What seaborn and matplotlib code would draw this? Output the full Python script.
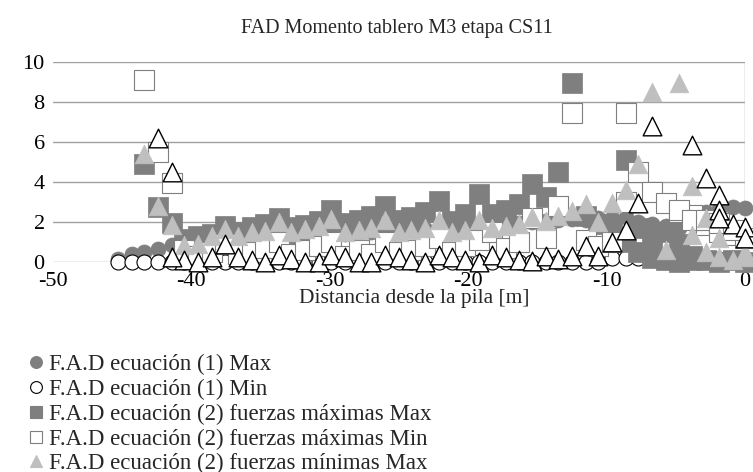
import numpy as np
import pandas as pd
import matplotlib
matplotlib.use("Agg")
import matplotlib.pyplot as plt
import seaborn as sns
from matplotlib.lines import Line2D

nan = np.nan

# ---- data ----
x_grid = [-45.3, -44.3, -43.4, -42.4, -41.4, -40.5, -39.5, -38.5, -37.6, -36.6,
          -35.6, -34.7, -33.7, -32.8, -31.8, -30.8, -29.9, -28.9, -27.9, -27.0,
          -26.0, -25.0, -24.1, -23.1, -22.1, -21.2, -20.2, -19.2, -18.3, -17.3,
          -16.3, -15.4, -14.4, -13.5, -12.5, -11.5, -10.6, -9.6, -8.6, -7.7,
          -6.7, -5.7, -4.8, -3.8, -2.8, -1.9, -0.9, 0.0]

ec1_max = [0.15, 0.4, 0.5, 0.65, 0.85, 0.95, 1.0, 1.05, 1.1, 1.1,
           1.15, 1.2, 1.25, 1.25, 1.3, 1.35, 1.4, 1.4, 1.45, 1.5,
           1.55, 1.55, 1.6, 1.65, 1.7, 1.7, 1.75, 1.8, 1.85, 1.9,
           1.95, 2.0, 2.05, 2.1, 2.15, 2.1, 2.2, 2.2, 2.25, 2.0,
           1.9, 1.8, 1.7, 2.3, 2.5, 2.65, 2.75, 2.7]

ec1_min = [0.0, 0.0, 0.0, 0.0, 0.0, 0.0, 0.0, 0.0, 0.0, 0.0,
           0.0, 0.0, 0.0, 0.0, 0.0, 0.0, 0.0, 0.0, 0.0, 0.0,
           0.0, 0.0, 0.0, 0.0, 0.0, 0.0, 0.0, 0.0, 0.0, 0.0,
           0.0, 0.0, 0.0, 0.0, 0.0, 0.0, 0.0, 0.2, 0.2, 0.2,
           0.2, 0.2, 0.2, 0.15, 0.15, 0.15, 0.15, 0.15]

fmax_max = [nan, nan, 4.9, 2.75, 1.95, 1.15, 1.3, 1.4, 1.8, 1.5,
            1.75, 1.9, 2.2, 1.75, 1.85, 2.05, 2.6, 1.95, 2.1, 2.3,
            2.8, 2.1, 2.25, 2.5, 3.05, 2.05, 2.4, 3.4, 2.4, 2.6,
            2.9, 3.9, 3.25, 4.5, 8.95, 2.3, 1.9, 1.6, 5.1, 1.7,
            1.2, 1.5, 0.9, 0.3, 0.1, 0.0, 0.1, 0.0]
fmax_max_x_extra = [-8.6, -7.7, -6.7, -5.7, -4.8, -3.8]
fmax_max_extra = [1.0, 0.5, 0.2, 0.1, 0.0, 0.1]

fmax_min = [nan, nan, 9.1, 5.5, 3.95, 0.6, 0.3, 0.5, 0.9, 0.4,
            0.5, 0.7, 1.0, 0.4, 0.6, 0.8, 1.0, 0.3, 0.6, 0.4,
            1.0, 0.5, 0.6, 0.8, 1.2, 0.5, 0.8, 1.1, 1.5, 0.7,
            1.0, 2.2, 1.2, 2.8, 7.45, 1.1, 0.8, 1.0, 7.45, 4.5,
            3.5, 2.95, 2.5, 2.35, 1.85, 1.5, 1.35, 1.2]
fmax_min_x_extra = [-8.6, -4.8, -3.8, -2.8, -1.9, -0.9]
fmax_min_extra = [3.0, 2.6, 2.1, 2.1, 1.95, 1.6]

fmin_max = [nan, nan, 5.4, 2.8, 1.85, 0.85, 0.9, 1.3, 1.65, 1.3,
            1.5, 1.55, 2.0, 1.5, 1.65, 1.8, 2.15, 1.5, 1.6, 1.7,
            2.1, 1.5, 1.6, 1.7, 2.1, 1.5, 1.6, 2.1, 1.7, 1.8,
            1.9, 2.25, 2.05, 2.3, 2.55, 2.9, 2.0, 2.95, 3.6, 4.9,
            8.5, 0.6, 8.95, 3.8, 2.2, 1.2, 0.1, 0.25]
fmin_max_x_extra = [-3.8, -2.8, -1.9, 0.0]
fmin_max_extra = [1.35, 0.5, 0.25, 0.5]

fmin_min = [nan, nan, nan, 6.2, 4.5, 0.1, 0.0, 0.25, 0.9, 0.25,
            0.1, 0.0, 0.35, 0.15, 0.0, 0.0, 0.35, 0.25, 0.0, 0.0,
            0.35, 0.25, 0.1, 0.0, 0.35, 0.25, 0.1, 0.0, 0.35, 0.25,
            0.1, 0.05, 0.3, 0.15, 0.3, 0.8, 0.3, 1.0, 1.6, 2.95,
            6.8, nan, nan, 5.85, 4.2, 3.35, 1.9, 1.75]
fmin_min_x_extra = [-41.4, -1.9, -1.9, 0.0]
fmin_min_extra = [0.25, 2.6, 2.2, 1.2]

labels = ["F.A.D ecuación (1) Max",
          "F.A.D ecuación (1) Min",
          "F.A.D ecuación (2) fuerzas máximas Max",
          "F.A.D ecuación (2) fuerzas máximas Min",
          "F.A.D ecuación (2) fuerzas mínimas Max",
          "F.A.D ecuación (2) fuerzas mínimas Min"]

x_ticks = [-50, -40, -30, -20, -10, 0]
y_ticks = [0, 2, 4, 6, 8, 10]

title = "FAD Momento tablero M3 etapa CS11"
xlabel = "Distancia desde la pila [m]"

# ---- styles ----
DARK = "#7f7f7f"
LIGHT = "#bfbfbf"
styles = [
    dict(marker="o", s=117, color=DARK, edgecolor=DARK, linewidth=0.5),
    dict(marker="o", s=117, color="white", edgecolor="black", linewidth=0.8),
    dict(marker="s", s=196, color=DARK, edgecolor=DARK, linewidth=0.5),
    dict(marker="s", s=196, color="white", edgecolor=DARK, linewidth=0.8),
    dict(marker="^", s=180, color=LIGHT, edgecolor=LIGHT, linewidth=0.5),
    dict(marker="^", s=180, color="white", edgecolor="black", linewidth=1.0),
]

series = [
    (x_grid, ec1_max),
    (x_grid, ec1_min),
    (x_grid + fmax_max_x_extra, fmax_max + fmax_max_extra),
    (x_grid + fmax_min_x_extra, fmax_min + fmax_min_extra),
    (x_grid + fmin_max_x_extra, fmin_max + fmin_max_extra),
    (x_grid + fmin_min_x_extra, fmin_min + fmin_min_extra),
]

frames = []
for lab, (xs, ys) in zip(labels, series):
    frames.append(pd.DataFrame({"x": xs, "y": ys, "serie": lab}))
df = pd.concat(frames, ignore_index=True).dropna()

sns.set_theme(style="white")
plt.rcParams["font.family"] = ["Liberation Serif", "DejaVu Serif"]
plt.rcParams["axes.unicode_minus"] = False

W, H = 753, 472
fig = plt.figure(figsize=(W / 100, H / 100), dpi=100)
ax = fig.add_axes([53 / W, 1 - 262 / H, (745 - 53) / W, 200 / H])

for k, (lab, st) in enumerate(zip(labels, styles)):
    sub = df[df["serie"] == lab]
    sns.scatterplot(data=sub, x="x", y="y", ax=ax, legend=False,
                    clip_on=False, zorder=3 + k, **st)

ax.set_xlim(-50, 0)
ax.set_ylim(0, 10)
ax.set_xticks(x_ticks)
ax.set_yticks(y_ticks)
ax.set_xticklabels([str(v) for v in x_ticks])
ax.set_yticklabels([str(v) for v in y_ticks])
ax.tick_params(axis="both", length=0, labelsize=16, colors="black")
ax.tick_params(axis="x", pad=7)
ax.tick_params(axis="y", pad=6)
for sp in ax.spines.values():
    sp.set_visible(False)
ax.yaxis.grid(True, color="#a0a0a0", linewidth=1.0, zorder=0)
ax.set_axisbelow(True)
ax.axvline(0, color="#a0a0a0", linewidth=1.0, zorder=1)
ax.set_xlabel("")
ax.set_ylabel("")

fig.text(397 / W, 1 - 28 / H, title, ha="center", va="center", fontsize=14.5)
fig.text(414 / W, 1 - 299 / H, xlabel, ha="center", va="center", fontsize=15.5)

handles = []
for st in styles:
    handles.append(Line2D([], [], linestyle="none", marker=st["marker"],
                          markersize=8.5, markerfacecolor=st["color"],
                          markeredgecolor=st["edgecolor"],
                          markeredgewidth=0.8))
fig.legend(handles, labels, loc="upper left", bbox_to_anchor=(28 / W, 1 - 354 / H),
           frameon=False, fontsize=16.5, handlelength=0.7, handletextpad=0.2,
           labelspacing=0.16, borderpad=0, borderaxespad=0)

fig.savefig("out.png", dpi=100)
